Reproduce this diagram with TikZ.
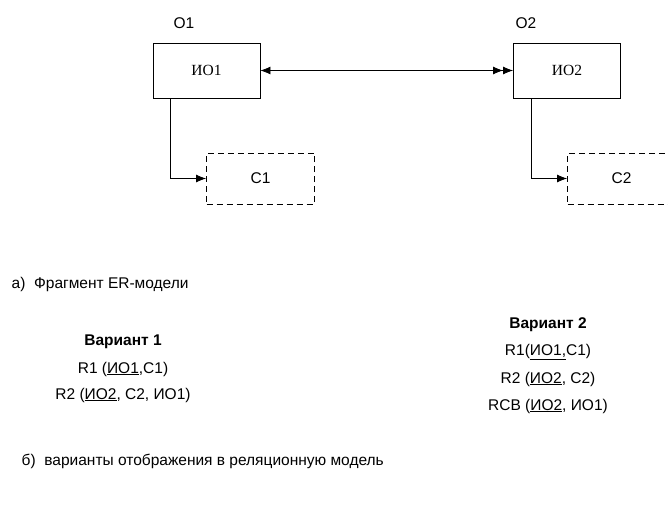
\documentclass[tikz,border=0pt]{standalone}
\usepackage{fontspec}
\setmainfont{Liberation Sans}
\newfontfamily\serif{Liberation Serif}
\usetikzlibrary{arrows.meta}
\begin{document}
\begin{tikzpicture}[x=1pt,y=-1pt,>={Latex[length=10pt,width=8pt]},line width=0.8pt,font=\fontsize{15.5}{18}\selectfont]
\tikzset{ent/.style={draw,minimum width=107pt,minimum height=55pt,font=\serif\fontsize{15.5}{18}\selectfont},
attr/.style={draw,dash pattern=on 6pt off 4pt,minimum width=108pt,minimum height=51pt}}
\useasboundingbox (0,0) rectangle (668,506);

\node(O1) at (184,23){O1};
\node(O2) at (526,23){O2};
\node[ent](IO1) at (206.5,70.5){ИО1};
\node[ent](IO2) at (567,70.5){ИО2};
\node[attr](C1) at (260.5,178.5){C1};
\node[attr](C2) at (621.5,178.5){C2};

\draw[<->>](IO1)--(IO2);
\draw[->]([xshift=18pt]IO1.south west)|-(C1);
\draw[->]([xshift=18pt]IO2.south west)|-(C2);

\node[anchor=west](A) at (8,284){а)\ \ Фрагмент ER-модели};

\node[font=\bfseries\fontsize{15.5}{18}\selectfont](V1) at (123,342){Вариант 1};
\node(V1R1) at (123,369){R1 (\underline{ИО1},C1)};
\node(V1R2) at (123,395){R2 (\underline{ИО2}, C2, ИО1)};

\node[font=\bfseries\fontsize{15.5}{18}\selectfont](V2) at (548,325){Вариант 2};
\node(V2R1) at (548,352){R1(\underline{ИО1,}C1)};
\node(V2R2) at (548,379){R2 (\underline{ИО2}, C2)};
\node(V2R3) at (548,406){RCB (\underline{ИО2}, ИО1)};

\node[anchor=west](B) at (18,461){б)\ \ варианты отображения в реляционную модель};
\end{tikzpicture}
\end{document}
